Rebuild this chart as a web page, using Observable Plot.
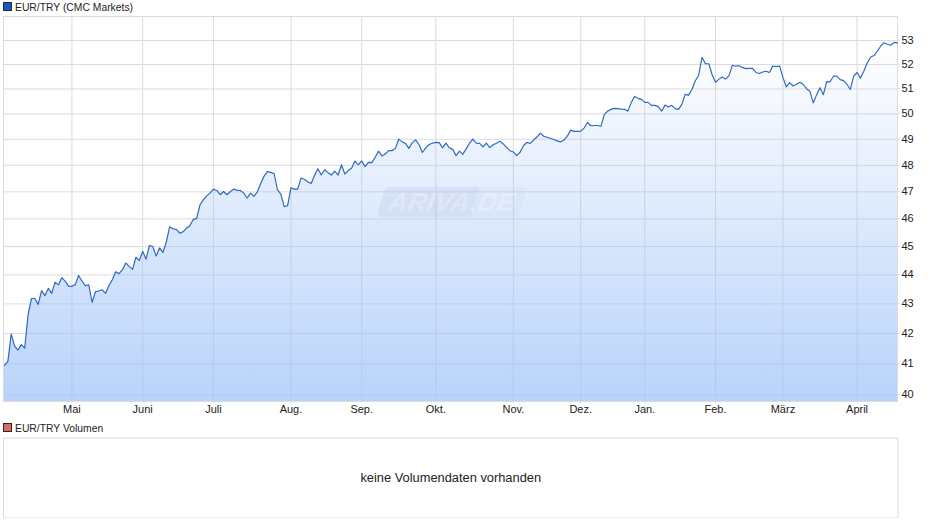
<!DOCTYPE html>
<html lang="de"><head><meta charset="utf-8">
<script src="https://cdn.jsdelivr.net/npm/d3@7"></script>
<script src="https://cdn.jsdelivr.net/npm/@observablehq/plot@0.6"></script>
<style>
html,body{margin:0;padding:0;background:#fff;overflow:hidden}
body{position:relative;width:940px;height:526px;font-family:"Liberation Sans",Arial,sans-serif;color:#222}
.lg{position:absolute;left:3px;font-size:10.35px;line-height:13px;height:13px;white-space:nowrap}
.lg i{position:absolute;left:0;top:1px;width:7px;height:7px;border:1px solid #1c2c4c;display:block}
.lg span{position:absolute;left:12px;top:0}
svg{display:block;position:absolute;left:0}
#wm{position:absolute;left:381px;top:187px;width:142px;height:30px;transform:skewX(-17deg);border-radius:5px;
background:linear-gradient(90deg,rgba(170,185,215,.22) 0 66%,rgba(170,185,215,.1) 66%);
font:italic bold 26px/30px "Liberation Sans",Arial,sans-serif;color:rgba(255,255,255,.3);text-align:center;letter-spacing:.5px}
#wm b{display:inline-block;transform:skewX(5deg);font-weight:bold}
</style></head><body>
<div class="lg" style="top:1px"><i style="background:#1a57b8"></i><span id="t1"></span></div>
<div id="c1"></div>
<div id="wm"><b>ARIVA.DE</b></div>
<div class="lg" style="top:422px"><i style="background:#d96a6a;border-color:#3a2020"></i><span id="t2"></span></div>
<div id="c2"></div>
<script>
const priceTitle = "EUR/TRY (CMC Markets)";
const volumeTitle = "EUR/TRY Volumen";
const noVolumeText = "keine Volumendaten vorhanden";
const monthLabels = ["Mai","Juni","Juli","Aug.","Sep.","Okt.","Nov.","Dez.","Jan.","Feb.","März","April"];
const monthSessions = [20,41,62,85,106,128,151,171,190,211,231,253];
const priceTicks = [40,41,42,43,44,45,46,47,48,49,50,51,52,53];
const closes = [
40.97,41.1,42.0,41.6,41.47,41.65,41.53,42.65,43.2,43.2,
43.0,43.47,43.3,43.55,43.38,43.76,43.67,43.92,43.8,43.63,
43.62,43.68,44.0,43.8,43.64,43.67,43.07,43.44,43.46,43.5,
43.38,43.65,43.85,44.13,44.06,44.2,44.44,44.32,44.21,44.64,
44.52,44.85,44.57,45.06,45.02,44.68,44.97,44.81,45.17,45.73,
45.66,45.64,45.5,45.55,45.68,45.77,46.0,46.03,46.53,46.72,
46.87,46.97,47.12,47.07,46.91,47.03,46.91,47.02,47.12,47.08,
47.07,46.97,46.79,46.97,46.85,47.01,47.32,47.6,47.78,47.75,
47.7,47.09,46.93,46.47,46.5,47.17,47.12,47.12,47.54,47.49,
47.4,47.33,47.63,47.89,47.65,47.85,47.74,47.65,47.8,47.65,
48.04,47.69,47.82,47.91,48.18,48.04,48.19,47.97,48.13,48.12,
48.33,48.56,48.38,48.45,48.58,48.58,48.67,49.03,48.92,48.86,
48.67,48.89,49.0,48.82,48.51,48.69,48.82,48.87,48.9,48.89,
48.69,48.87,48.69,48.63,48.39,48.56,48.44,48.65,48.87,49.03,
48.87,48.86,48.73,48.87,48.7,48.81,48.87,48.95,48.84,48.71,
48.58,48.53,48.39,48.52,48.77,48.9,48.86,48.99,49.11,49.26,
49.14,49.1,49.06,49.01,48.96,48.92,48.99,49.14,49.38,49.33,
49.33,49.34,49.46,49.68,49.55,49.56,49.56,49.53,50.0,50.13,
50.2,50.24,50.23,50.21,50.2,50.13,50.47,50.72,50.64,50.6,
50.48,50.48,50.36,50.36,50.31,50.13,50.37,50.29,50.36,50.23,
50.2,50.4,50.8,50.77,51.0,51.35,51.58,52.32,52.05,52.05,
51.6,51.29,51.42,51.51,51.42,51.56,51.99,51.95,51.97,51.9,
51.85,51.86,51.86,51.69,51.65,51.71,51.74,51.69,51.96,51.93,
51.96,51.49,51.1,51.28,51.14,51.21,51.29,51.21,51.03,50.93,
50.46,50.79,51.07,50.79,51.32,51.31,51.54,51.54,51.4,51.36,
51.21,51.0,51.54,51.69,51.46,51.74,52.08,52.32,52.39,52.57,
52.78,52.93,52.86,52.82,52.94,52.92];
const rows = closes.map((close, session) => ({session, close}));
const grid = "#dcdcdc";
const labelStyle = {fontFamily:'"Liberation Sans",Arial,sans-serif', fontSize:"11px", color:"#222"};

document.getElementById("t1").textContent = priceTitle;
document.getElementById("t2").textContent = volumeTitle;

const gradient = () => {
  const ns = "http://www.w3.org/2000/svg";
  const defs = document.createElementNS(ns, "defs");
  defs.innerHTML = '<linearGradient id="fade" x1="0" y1="0" x2="0" y2="1">' +
    '<stop offset="0" stop-color="#9bc0f8" stop-opacity="0"/>' +
    '<stop offset="1" stop-color="#9bc0f8" stop-opacity="0.7"/></linearGradient>';
  return defs;
};

const chart = Plot.plot({
  width: 940, height: 407,
  marginTop: 3, marginBottom: 19, marginLeft: 3, marginRight: 43,
  style: labelStyle,
  x: {type:"linear", domain:[-0.3, 265], axis:null},
  y: {type:"log", domain:[39.81, 54.04], axis:null},
  marks: [
    gradient,
    Plot.gridX(monthSessions, {stroke:grid, strokeOpacity:1, strokeWidth:1}),
    Plot.gridY(priceTicks, {stroke:grid, strokeOpacity:1, strokeWidth:1, dy:-0.5}),
    Plot.frame({stroke:grid, strokeWidth:1}),
    Plot.areaY(rows, {x:"session", y1:39.81, y2:"close", fill:"url(#fade)"}),
    Plot.line(rows, {x:"session", y:"close", stroke:"#2a66c4", strokeWidth:1.15}),
    Plot.axisX(monthSessions, {anchor:"bottom", label:null, tickSize:2, tickPadding:2, stroke:grid,
      tickFormat:(d,i)=>monthLabels[i], fill:"#222"}),
    Plot.axisY(priceTicks, {anchor:"right", label:null, tickSize:2, tickPadding:2, stroke:grid, dy:-0.7,
      tickFormat:d=>String(d), fill:"#222"})
  ]
});
chart.style.top = "13px";
document.getElementById("c1").append(chart);

const box = Plot.plot({
  width: 940, height: 81,
  marginTop: 0.5, marginBottom: 0.5, marginLeft: 3, marginRight: 42.5,
  style: labelStyle,
  x: {axis:null}, y: {axis:null},
  marks: [
    Plot.frame({stroke:grid, strokeWidth:1}),
    Plot.text([noVolumeText], {frameAnchor:"middle", text:d=>d, fontSize:12.85, fill:"#222"})
  ]
});
box.style.top = "437px";
document.getElementById("c2").append(box);
</script>
</body></html>
